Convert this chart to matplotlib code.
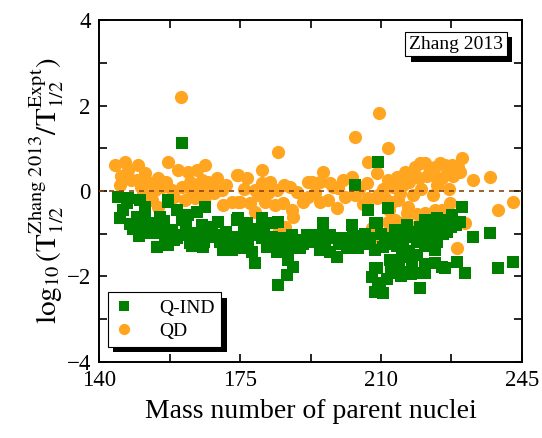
import matplotlib
matplotlib.use("Agg")
import matplotlib.pyplot as plt
import matplotlib.patheffects as pe
from matplotlib.ticker import MultipleLocator

plt.rcParams["font.family"] = ["Liberation Serif", "DejaVu Serif"]
plt.rcParams["mathtext.fontset"] = "stix"

# Q-IND: mass number A and log10(T_calc/T_expt)
qind_A = [
    144.7, 146.9, 147.2, 150.2, 151.4, 145.2, 147.7, 149.4, 151.4, 150.7, 152.7, 155.1,
    152.2, 154.6, 154.4, 156.4, 157.1, 160.6,
    157.1, 159.4, 160.6, 162.1, 164.3, 166.3, 158.1, 160.8, 163.3, 165.6, 167.0, 169.5,
    157.1, 159.4, 162.6, 165.8, 168.0, 170.8, 173.0, 174.2, 174.2, 168.8,
    174.5, 176.7, 180.4, 182.9, 184.4, 174.5, 178.2, 180.4, 182.9, 185.4, 187.9, 191.6,
    175.5, 178.0, 181.7, 184.2, 186.9, 189.9, 178.7, 186.9, 188.1, 186.6, 184.4,
    203.5, 209.2, 206.7, 195.6, 202.8, 208.5, 191.9, 194.3, 197.3, 200.5, 204.3, 207.2,
    191.9, 194.8, 197.3, 199.1, 201.5, 204.3, 208.5, 208.5, 207.7, 209.2, 208.5,
    211.7, 209.0, 211.0, 213.4, 216.4, 219.7, 220.9, 223.9, 225.4, 210.5, 213.4, 216.7,
    218.9, 222.1, 224.6, 212.2, 215.2, 217.7, 223.4, 223.4, 225.1, 213.4, 216.4, 218.9,
    220.9, 209.7, 219.7, 209.0, 210.5,
    230.1, 227.6, 226.6, 229.6, 232.8, 237.0, 228.8, 230.8, 239.0, 242.7, 225.9,
    146.0, 148.5, 150.0, 153.5, 155.5, 156.0, 158.5, 161.5, 163.0, 164.5, 166.0, 168.0,
    170.0, 171.5, 172.5, 176.0, 177.0, 179.5, 181.0, 183.5, 186.0, 189.0, 190.5, 193.0,
    196.0, 198.5, 199.5, 202.0, 203.0, 205.5, 206.0, 210.0, 212.0, 214.0, 214.5, 215.5,
    216.0, 217.0, 218.0, 219.0, 220.0, 221.0, 222.0, 223.0, 224.0, 225.5, 226.5, 227.5,
    228.5, 221.0, 212.5, 211.5, 215.0, 217.5,
]
qind_dev = [
    -0.14, -0.28, -0.16, -0.21, -0.37, -0.63, -0.77, -0.61, -0.61, -0.87, -0.75, -0.61,
    -0.98, -0.98, -1.31, -1.22, -0.21, 1.12,
    -0.26, -0.44, -0.68, -0.56, -0.49, -0.37, -0.91, -1.03, -0.98, -0.80, -0.91, -0.73,
    -1.26, -1.10, -1.22, -1.31, -1.08, -1.38, -1.38, -1.08, -0.68, -1.03,
    -0.63, -0.75, -0.63, -0.75, -0.73, -1.08, -1.03, -1.10, -1.08, -1.10, -1.03, -1.03,
    -1.33, -1.43, -1.31, -1.43, -1.38, -1.33, -1.68, -1.61, -1.78, -1.96, -2.20,
    0.14, 0.68, -0.44, -0.75, -0.80, -0.75, -1.08, -1.03, -1.03, -1.10, -1.15, -1.10,
    -1.19, -1.38, -1.43, -1.54, -1.33, -1.33, -1.38, -1.80, -2.01, -2.20, -2.36,
    -0.40, -0.75, -1.10, -0.91, -0.80, -0.84, -0.68, -0.63, -0.68, -1.31, -1.15, -1.08,
    -1.19, -1.08, -0.91, -1.61, -1.54, -1.68, -1.38, -1.68, -1.78, -1.92, -1.89, -1.92,
    -1.92, -2.15, -2.27, -1.80, -2.39,
    -0.37, -0.56, -0.73, -0.73, -1.08, -0.98, -1.66, -1.92, -1.80, -1.66, -1.80,
    -0.45, -0.90, -1.05, -0.85, -0.95, -0.70, -1.15, -0.85, -1.30, -1.05, -1.20, -0.85,
    -1.20, -0.95, -1.15, -0.95, -1.20, -0.90, -0.85, -1.25, -1.25, -1.15, -1.25, -1.20,
    -1.15, -1.10, -1.25, -1.20, -1.05, -1.25, -1.00, -1.00, -1.25, -1.30, -1.65, -1.20,
    -0.95, -1.40, -0.95, -1.50, -1.10, -1.30, -0.85, -1.00, -1.20, -1.00, -0.95, -0.85,
    -0.80, -1.70, -1.80, -2.05, -2.00, -1.95,
]

# QD
qd_A = [
    144.0, 146.5, 147.2, 145.2, 149.7, 151.4, 149.4, 152.2, 154.6, 153.9, 153.2, 154.6,
    157.1, 155.6, 160.3,
    159.6, 162.1, 164.3, 166.3, 165.6, 167.0, 169.3, 174.2, 158.1, 160.6, 161.3, 163.8,
    166.3, 168.0, 170.5, 170.8, 173.0, 175.0, 163.1,
    184.4, 174.5, 176.7, 180.4, 182.4, 180.4, 178.7, 184.2, 187.4, 189.1, 191.9, 174.5,
    177.5, 178.7, 181.2, 183.7, 185.7, 187.9, 188.1, 186.2, 184.4,
    203.5, 206.7, 195.6, 192.9, 194.8, 197.3, 202.8, 206.5, 209.0, 191.9, 194.8, 196.8,
    199.1, 201.0, 203.5, 206.7, 209.0, 207.7, 209.0, 199.3, 209.5,
    211.7, 211.7, 213.9, 215.9, 217.9, 219.7, 220.9, 222.1, 224.6, 225.1, 222.9, 209.2,
    211.0, 212.7, 214.2, 216.7, 216.4, 211.7, 213.4, 222.9, 220.9, 225.1, 209.2,
    230.1, 227.6, 229.6, 226.4, 232.8, 237.0, 242.7, 239.0, 230.8, 228.8, 227.1,
    145.5, 147.8, 150.5, 151.0, 156.5, 158.5, 162.5, 165.0, 168.5, 171.5, 176.0, 179.5,
    182.0, 186.0, 190.5, 193.5, 198.0, 200.5, 204.5, 205.5, 210.5, 212.0, 213.0, 214.8,
    215.5, 217.0, 218.0, 218.5, 219.5, 220.0, 221.5, 223.5, 224.0, 226.0, 227.0, 228.0,
    229.0, 219.0, 221.5, 223.5, 215.0, 217.5, 212.5, 226.5,
]
qd_dev = [
    0.61, 0.68, 0.49, 0.14, 0.61, 0.42, 0.26, 0.21, 0.30, 0.02, -0.21, -0.37,
    0.68, 0.09, 2.20,
    0.49, 0.44, 0.49, 0.61, 0.26, 0.21, 0.30, 0.37, 0.02, 0.09, -0.21, -0.16,
    -0.14, 0.09, 0.02, -0.33, -0.26, -0.26, -0.05,
    0.91, 0.37, 0.30, 0.49, 0.21, 0.19, 0.02, 0.02, 0.09, -0.02, 0.21, -0.26,
    -0.28, -0.49, -0.26, -0.33, -0.28, -0.44, -0.61, -0.84, -0.98,
    1.26, 0.68, 0.44, 0.21, 0.21, 0.19, 0.33, 0.19, 0.42, -0.14, -0.26, -0.21,
    -0.40, -0.14, -0.09, -0.16, -0.16, -0.87, -1.08, 0.07, 1.83,
    1.01, 0.26, 0.33, 0.44, 0.42, 0.65, 0.65, 0.49, 0.65, 0.30, 0.37, -0.09,
    -0.16, -0.26, -0.21, -0.37, -0.51, -0.73, -0.68, -0.09, -0.51, -0.44, -1.10,
    0.77, 0.61, 0.44, 0.42, 0.26, 0.33, -0.26, -0.44, -0.75, -1.33, -0.28,
    0.35, 0.25, 0.10, -0.05, 0.20, -0.15, 0.20, 0.05, -0.05, 0.15, 0.05, -0.10,
    -0.05, 0.15, -0.25, -0.05, 0.10, 0.25, 0.05, -0.30, 0.05, -0.45, 0.10, -0.05,
    0.15, 0.20, -0.10, 0.55, 0.30, 0.05, 0.35, 0.55, 0.15, 0.60, 0.05, 0.35,
    0.55, -0.55, -0.65, -0.45, -0.75, -0.85, -0.95, -0.55,
]

fig = plt.figure(figsize=(5.42, 4.38), dpi=100)
ax = fig.add_axes([0.183, 0.174, 0.780, 0.780])

ax.plot(qd_A, qd_dev, "o", color="#FFA520", markersize=9.5, markeredgewidth=0,
        label="QD", zorder=2)
ax.plot(qind_A, qind_dev, "s", color="#007F00", markersize=8, markeredgewidth=0,
        label="Q-IND", zorder=3)
ax.axhline(0, color="#8B4513", linestyle=(0, (3, 3)), linewidth=1.2, zorder=4)

ax.set_xlim(140, 245)
ax.set_ylim(-4, 4)
ax.xaxis.set_major_locator(MultipleLocator(35))
ax.xaxis.set_minor_locator(MultipleLocator(17.5))
ax.yaxis.set_major_locator(MultipleLocator(2))
ax.yaxis.set_minor_locator(MultipleLocator(1))
ax.tick_params(which="both", direction="in", top=True, right=True, width=1.2)
ax.tick_params(which="major", length=6, labelsize=16.5, pad=6)
ax.tick_params(which="minor", length=6)
for s in ax.spines.values():
    s.set_linewidth(1.4)

ax.set_xlabel("Mass number of parent nuclei", fontsize=20, labelpad=6)
ax.set_ylabel(r"$\log_{10}(\mathrm{T}_{1/2}^{\mathrm{Zhang\ 2013}}/\mathrm{T}_{1/2}^{\mathrm{Expt}})$",
              fontsize=21, labelpad=0)

shadow = [pe.SimplePatchShadow(offset=(4, -4), shadow_rgbFace="k", alpha=1), pe.Normal()]

h, l = ax.get_legend_handles_labels()
leg = ax.legend(h[::-1], l[::-1], loc="lower left", bbox_to_anchor=(0.02, 0.044),
                borderaxespad=0, fontsize=14, fancybox=False, edgecolor="k",
                framealpha=1, handlelength=1.0, handletextpad=1.3, borderpad=0.35,
                labelspacing=0.3, markerscale=0.85)
leg.get_frame().set_linewidth(0.8)
leg.get_frame().set_path_effects(shadow)

t = ax.text(0.955, 0.93, "Zhang 2013", transform=ax.transAxes, ha="right", va="center",
            fontsize=14, bbox=dict(boxstyle="square,pad=0.2", fc="white", ec="k", lw=0.8))
t.get_bbox_patch().set_path_effects(shadow)

fig.savefig("out.png", dpi=100)
